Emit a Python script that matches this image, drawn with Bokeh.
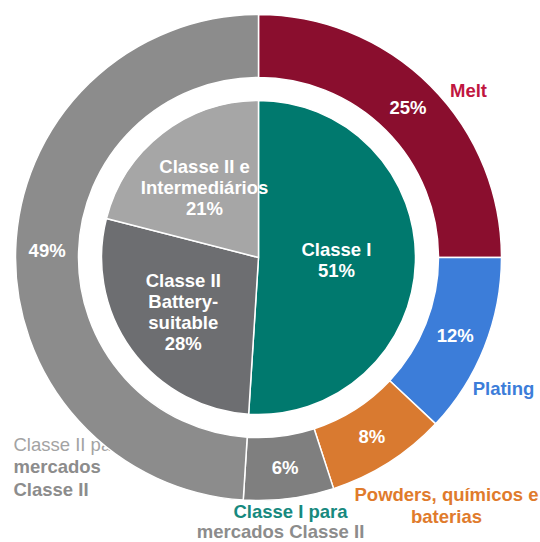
import numpy as np
from bokeh.plotting import figure
from bokeh.models import Range1d
from bokeh.core.properties import value
from bokeh.embed import file_html
from bokeh.resources import INLINE

# ---- data ----
inner_labels = ["Classe I", "Classe II Battery-suitable", "Classe II e Intermediários"]
inner_values = [51, 28, 21]
inner_texts = ["Classe I\n51%", "Classe II\nBattery-\nsuitable\n28%", "Classe II e\nIntermediários\n21%"]

outer_labels = ["Melt", "Plating", "Powders, químicos e baterias",
                "Classe I para mercados Classe II", "Classe II para mercados Classe II"]
outer_values = [25, 12, 8, 6, 49]

# ---- styles / layout ----
inner_colors = ["#00796E", "#6D6E71", "#A6A6A6"]
outer_colors = ["#8A0E2E", "#3C7DD9", "#D97A30", "#7F7F7F", "#8C8C8C"]
inner_label_r = [78, 93, 88]
R_OUT, R_IN, R_PIE = 243, 180, 157
FONT = value("Liberation Sans")
FS = "18.5px"

W, H = 540, 542
CX, CY = 258, 257  # centre in frame pixels (from top-left)

p = figure(width=W, height=H, output_backend="svg", toolbar_location=None,
           x_range=Range1d(-CX, W - CX), y_range=Range1d(-(H - CY), CY),
           min_border=0, outline_line_color=None)
p.axis.visible = False
p.grid.visible = False
p.background_fill_color = "white"


def angles(vals):
    v = np.array(vals, dtype=float)
    frac = v / v.sum()
    cum = np.concatenate([[0], np.cumsum(frac)])
    f0, f1 = cum[:-1], cum[1:]
    start = np.pi / 2 - 2 * np.pi * f1
    end = np.pi / 2 - 2 * np.pi * f0
    mid = (start + end) / 2
    return start, end, mid, frac


def page(px, py):
    return px - CX, CY - py


def label(txt, px, py, color, align="center", style="bold"):
    x, y = page(px, py)
    p.text(x=[x], y=[y], text=[txt], text_color=color, text_font=FONT,
           text_font_style=style, text_font_size=FS,
           text_align=align, text_baseline="middle")


# left labels sit behind the ring
label("Classe II para", 13, 444, "#A3A3A3", align="left", style="normal")
label("mercados", 13, 466, "#8C8C8C", align="left")
label("Classe II", 13, 489, "#8C8C8C", align="left")

# outer ring
os_, oe, om, ofrac = angles(outer_values)
p.annular_wedge(x=0, y=0, inner_radius=R_IN, outer_radius=R_OUT,
                start_angle=list(os_), end_angle=list(oe),
                fill_color=outer_colors, line_color="white", line_width=1.5)

# inner pie
is_, ie, im, ifrac = angles(inner_values)
p.wedge(x=0, y=0, radius=R_PIE, start_angle=list(is_), end_angle=list(ie),
        fill_color=inner_colors, line_color="white", line_width=1.5)

# outer percentage labels
r_mid = (R_IN + R_OUT) / 2
p.text(x=list(r_mid * np.cos(om)), y=list(r_mid * np.sin(om)),
       text=[f"{v}%" for v in outer_values], text_color="white",
       text_font=FONT, text_font_style="bold", text_font_size=FS,
       text_align="center", text_baseline="middle")

# inner labels
ir = np.array(inner_label_r)
p.text(x=list(ir * np.cos(im)), y=list(ir * np.sin(im)),
       text=inner_texts, text_color="white",
       text_font=FONT, text_font_style="bold", text_font_size=FS,
       text_align="center", text_baseline="middle", text_line_height=1.0)

label("Melt", 468, 90, "#C0163F")
label("Plating", 503, 388, "#3C7DD9")
label("Powders, químicos e", 446, 494, "#E07B2C")
label("baterias", 446, 516, "#E07B2C")
label("Classe I para", 290, 511, "#17897E")
label("mercados Classe II", 280, 531, "#8C8C8C")

open("out.html", "w").write(file_html(p, INLINE))
